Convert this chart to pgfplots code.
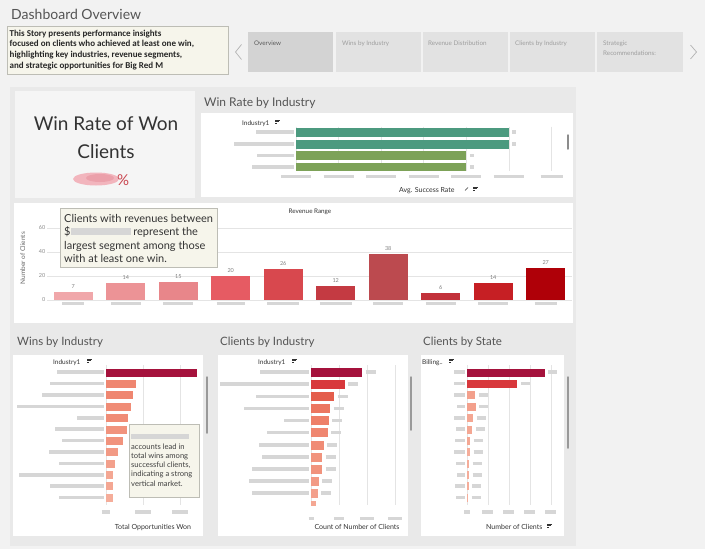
\documentclass[border=0pt]{standalone}
\usepackage{fontspec}
\setmainfont{Lato}
\newfontfamily\carlito{Carlito}
\usepackage{pgfplots}
\pgfplotsset{compat=1.18}

\definecolor{pagebg}{HTML}{F2F2F2}
\definecolor{contbg}{HTML}{E9E9E9}
\definecolor{kpibg}{HTML}{F5F5F5}
\definecolor{smudge}{HTML}{D6D6D6}
\definecolor{gridc}{HTML}{E4E4E4}
\definecolor{titlegray}{HTML}{555555}
\definecolor{dark}{HTML}{333333}
\definecolor{cream}{HTML}{F6F5EB}
\definecolor{creamborder}{HTML}{BDBDB5}
\definecolor{crimson}{HTML}{A5123C}
\definecolor{redtwo}{HTML}{D8383C}
\definecolor{teal}{HTML}{4C9A7F}
\definecolor{olive}{HTML}{7DA258}
\definecolor{tabsel}{HTML}{D3D3D3}
\definecolor{tab}{HTML}{E2E2E2}
\definecolor{pinkA}{HTML}{F2B5BD}
\definecolor{pinkB}{HTML}{EBA0AA}
\definecolor{pctred}{HTML}{C9454F}
% revenue colours
\definecolor{rvA}{HTML}{F0A7AA}
\definecolor{rvB}{HTML}{EC9396}
\definecolor{rvC}{HTML}{E8868A}
\definecolor{rvD}{HTML}{E65B63}
\definecolor{rvE}{HTML}{D8484E}
\definecolor{rvF}{HTML}{C43A42}
\definecolor{rvG}{HTML}{BC4A4F}
\definecolor{rvH}{HTML}{C2313A}
\definecolor{rvI}{HTML}{C61F24}
\definecolor{rvJ}{HTML}{AF0008}
% salmon shades
\definecolor{saA}{HTML}{E45E4C}
\definecolor{saB}{HTML}{EC7660}
\definecolor{saC}{HTML}{EE7F68}
\definecolor{saD}{HTML}{EF8670}
\definecolor{saE}{HTML}{F08C76}
\definecolor{saF}{HTML}{F1937D}
\definecolor{saG}{HTML}{F29A85}
\definecolor{saH}{HTML}{F3A08C}
\definecolor{saI}{HTML}{F4A793}
\definecolor{saJ}{HTML}{F5AD9A}

\newcommand\sm[1]{\textcolor{smudge}{\rule[0.6pt]{#1pt}{3.6pt}}}
\newcommand\sorticon[2]{%
  \draw[dark, line width=0.6pt] (#1,#2) -- ++(5,0);
  \draw[dark, line width=0.6pt] (#1,#2+1.6) -- ++(3.6,0);
  \draw[dark, line width=0.6pt] (#1,#2+3.2) -- ++(2.2,0);}

\pgfplotsset{
  dash/.style={scale only axis, axis line style={draw=none}, major tick length=0pt,
    tick style={draw=none}, /pgf/number format/assume math mode=true, clip=true,
    enlargelimits=false,
    ticklabel style={font=\fontsize{6}{7}\selectfont, inner sep=1.5pt}},
  hb/.style={dash, xbar, /pgf/bar shift=0pt, y dir=reverse, xmajorgrids,
    major grid style={gridc, line width=0.6pt}, ytick={1,...,12}, xmin=0},
}

\begin{document}
\begin{tikzpicture}
\begin{scope}[x=1pt,y=-1pt]
\useasboundingbox (0,0) rectangle (705,549);
\fill[pagebg] (0,0) rectangle (705,549);
% header
\node[anchor=base west, inner sep=0, font=\fontsize{14}{16}\selectfont, text=titlegray] at (11,19.5) {Dashboard Overview};
\draw[creamborder, fill=cream, line width=0.6pt] (7,26) rectangle (228,74);
\begin{scope}[every node/.style={anchor=base west, inner sep=0, font=\carlito\bfseries\fontsize{9}{10}\selectfont, text=black!85}]
\node at (9.5,36) {This Story presents performance insights};
\node at (9.5,46.7) {focused on clients who achieved at least one win,};
\node at (9.5,57.3) {highlighting key industries, revenue segments,};
\node at (9.5,68) {and strategic opportunities for Big Red M};
\end{scope}
\draw[black!30, line width=0.7pt] (241.5,44.5) -- (235.5,52) -- (241.5,59.5);
\draw[black!30, line width=0.7pt] (690.5,45) -- (696.5,52) -- (690.5,59);
\fill[tabsel] (248,32) rectangle (333,72);
\fill[tab] (336,32) rectangle (421,72);
\fill[tab] (423,32) rectangle (508,72);
\fill[tab] (510,32) rectangle (595,72);
\fill[tab] (597,32) rectangle (683,72);
\begin{scope}[every node/.style={anchor=base west, inner sep=0, font=\fontsize{6.3}{7}\selectfont}]
\node[text=black!65] at (254,45) {Overview};
\node[text=black!38] at (342,45) {Wins by Industry};
\node[text=black!38] at (428,45) {Revenue Distribution};
\node[text=black!38] at (515,45) {Clients by Industry};
\node[text=black!38] at (603,45) {Strategic};
\node[text=black!38] at (603,55.5) {Recommendations:};
\end{scope}
% dashboard container
\fill[contbg] (10,87) rectangle (576,546);
% KPI
\fill[kpibg] (15,91) rectangle (195,198);
\node[anchor=base, inner sep=0, font=\fontsize{19}{22}\selectfont, text=dark] at (106,130) {Win Rate of Won};
\node[anchor=base, inner sep=0, font=\fontsize{19}{22}\selectfont, text=dark] at (106,158) {Clients};
\fill[pinkA] (96,179) ellipse [x radius=23, y radius=6.5];
\fill[pinkB] (100,178) ellipse [x radius=14, y radius=4];
\node[anchor=base west, inner sep=0, font=\fontsize{15}{16}\selectfont, text=pctred] at (117,185) {\%};
% win rate panel
\node[anchor=base west, inner sep=0, font=\fontsize{12}{14}\selectfont, text=titlegray] at (204,106) {Win Rate by Industry};
\fill[white] (201,113) rectangle (573,197);
\node[anchor=base west, inner sep=0, font=\fontsize{6.5}{7}\selectfont, text=dark] at (242,125) {Industry1};
\sorticon{275}{120}
\node[anchor=base west, inner sep=0, font=\fontsize{7}{8}\selectfont, text=dark] at (399,192) {Avg. Success Rate};
\sorticon{473}{187}
\draw[dark, line width=0.6pt] (465,190.5) -- (468,187.5);
\draw[black!45, line width=1.5pt, line cap=round] (568,135) -- (568,149);
% revenue panel
\fill[white] (14,203) rectangle (573,323);
\node[anchor=base, inner sep=0, font=\fontsize{6.3}{7}\selectfont, text=dark] at (310,213) {Revenue Range};
\node[anchor=base, inner sep=0, rotate=90, font=\fontsize{6.5}{7}\selectfont, text=black!60] at (25,258) {Number of Clients};
% bottom panels
\node[anchor=base west, inner sep=0, font=\fontsize{11.5}{13}\selectfont, text=titlegray] at (17,345) {Wins by Industry};
\node[anchor=base west, inner sep=0, font=\fontsize{11.5}{13}\selectfont, text=titlegray] at (220,345) {Clients by Industry};
\node[anchor=base west, inner sep=0, font=\fontsize{11.5}{13}\selectfont, text=titlegray] at (423,345) {Clients by State};
\fill[white] (13,355) rectangle (203,536);
\fill[white] (218,355) rectangle (408,536);
\fill[white] (421,355) rectangle (564,536);
\node[anchor=base west, inner sep=0, font=\fontsize{6.5}{7}\selectfont, text=dark] at (53,364) {Industry1};
\sorticon{87}{359}
\node[anchor=base west, inner sep=0, font=\fontsize{6.5}{7}\selectfont, text=dark] at (258,364) {Industry1};
\sorticon{292}{359}
\node[anchor=base west, inner sep=0, font=\fontsize{6.5}{7}\selectfont, text=dark] at (422,364) {Billing..};
\sorticon{449}{359}
\node[anchor=base, inner sep=0, font=\fontsize{7}{8}\selectfont, text=dark] at (153,529) {Total Opportunities Won};
\node[anchor=base, inner sep=0, font=\fontsize{7}{8}\selectfont, text=dark] at (357,529) {Count of Number of Clients};
\node[anchor=base west, inner sep=0, font=\fontsize{7}{8}\selectfont, text=dark] at (486,529) {Number of Clients};
\sorticon{547}{524}
\draw[black!40, line width=1.5pt, line cap=round] (207,377) -- (207,433);
\draw[black!40, line width=1.5pt, line cap=round] (411,377) -- (411,430);
\draw[black!40, line width=1.5pt, line cap=round] (568,377) -- (568,448);
\end{scope}

% ---------- Win rate by industry ----------
\begin{axis}[hb, at={(296pt,-126.7pt)}, anchor=north west, width=267pt, height=44.1pt,
  xmax=62.7, ymin=0.5, ymax=4.3, bar width=9pt, ytick={1,2,3,4},
  yticklabels={\sm{38},\sm{60},\sm{37},\sm{42}},
  xtick={0,10,20,30,40,50,60}, xticklabels={\sm{30},\sm{30},\sm{30},\sm{30},\sm{30},\sm{30},\sm{22}},
  xticklabel style={yshift=-2pt},
  nodes near coords={\sm{4}}]
\addplot[fill=teal, draw=none] coordinates {(50,1)};
\addplot[fill=teal, draw=none] coordinates {(50,2)};
\addplot[fill=olive, draw=none] coordinates {(40,3)};
\addplot[fill=olive, draw=none] coordinates {(40,4)};
\end{axis}

% ---------- Revenue range ----------
\begin{axis}[dash, ybar, /pgf/bar shift=0pt, at={(47pt,-300pt)}, anchor=south west,
  width=525pt, height=84pt, xmin=-0.5, xmax=9.5, ymin=0, ymax=70, bar width=39pt,
  xtick={0,...,9},
  xticklabels={\sm{22},\sm{30},\sm{30},\sm{28},\sm{32},\sm{32},\sm{30},\sm{30},\sm{30},\sm{22}},
  ytick={0,20,40,60}, ymajorgrids, major grid style={gridc, line width=0.5pt},
  yticklabel style={text=black!45, font=\fontsize{5.5}{6}\selectfont},
  nodes near coords,
  nodes near coords style={font=\fontsize{5.5}{6}\selectfont, text=black!50}]
\addplot[fill=rvA, draw=none] coordinates {(0,7)};
\addplot[fill=rvB, draw=none] coordinates {(1,14)};
\addplot[fill=rvC, draw=none] coordinates {(2,15)};
\addplot[fill=rvD, draw=none] coordinates {(3,20)};
\addplot[fill=rvE, draw=none] coordinates {(4,26)};
\addplot[fill=rvF, draw=none] coordinates {(5,12)};
\addplot[fill=rvG, draw=none] coordinates {(6,38)};
\addplot[fill=rvH, draw=none] coordinates {(7,6)};
\addplot[fill=rvI, draw=none] coordinates {(8,14)};
\addplot[fill=rvJ, draw=none] coordinates {(9,27)};
\end{axis}

% ---------- Wins by industry ----------
\begin{axis}[hb, at={(106pt,-365.1pt)}, anchor=north west, width=96pt, height=140.2pt,
  xmax=129.7, ymin=0.35, ymax=12.65, bar width=8pt,
  xtick={0,50,100}, xticklabels={\sm{8},\sm{16},\sm{16}}, xticklabel style={yshift=-3pt},
  yticklabels={\sm{47},\sm{54},\sm{62},\sm{87},\sm{27},\sm{49},\sm{42},\sm{55},\sm{45},\sm{85},\sm{54},\sm{45}}]
\addplot[fill=crimson, draw=none] coordinates {(123,1)};
\addplot[fill=saD, draw=none] coordinates {(41,2)};
\addplot[fill=saD, draw=none] coordinates {(36,3)};
\addplot[fill=saE, draw=none] coordinates {(34,4)};
\addplot[fill=saE, draw=none] coordinates {(30,5)};
\addplot[fill=saF, draw=none] coordinates {(28,6)};
\addplot[fill=saF, draw=none] coordinates {(23,7)};
\addplot[fill=saG, draw=none] coordinates {(16,8)};
\addplot[fill=saH, draw=none] coordinates {(12,9)};
\addplot[fill=saI, draw=none] coordinates {(10,10)};
\addplot[fill=saI, draw=none] coordinates {(9,11)};
\addplot[fill=saJ, draw=none] coordinates {(9,12)};
\end{axis}

% ---------- Clients by industry ----------
\begin{axis}[hb, at={(311pt,-365.2pt)}, anchor=north west, width=93pt, height=139.8pt,
  xmax=166, ymin=0.4, ymax=11.95, bar width=9pt,
  xtick={0,50,100,150}, xticklabels={\sm{5},\sm{10},\sm{14},\sm{14}}, xticklabel style={yshift=-10pt},
  yticklabels={\sm{49},\sm{89},\sm{53},\sm{65},\sm{25},\sm{42},\sm{50},\sm{47},\sm{57},\sm{60},\sm{57},\sm{47}},
  nodes near coords={\sm{10}}]
\addplot[fill=crimson, draw=none] coordinates {(91,1)};
\addplot[fill=redtwo, draw=none] coordinates {(60,2)};
\addplot[fill=saA, draw=none] coordinates {(41,3)};
\addplot[fill=saB, draw=none] coordinates {(34,4)};
\addplot[fill=saC, draw=none] coordinates {(32,5)};
\addplot[fill=saD, draw=none] coordinates {(30,6)};
\addplot[fill=saE, draw=none] coordinates {(23,7)};
\addplot[fill=saF, draw=none] coordinates {(20,8)};
\addplot[fill=saF, draw=none] coordinates {(20,9)};
\addplot[fill=saG, draw=none] coordinates {(14,10)};
\addplot[fill=saH, draw=none] coordinates {(12,11)};
\addplot[fill=saI, draw=none] coordinates {(9,12)};
\end{axis}

% ---------- Clients by state ----------
\begin{axis}[hb, at={(467pt,-365.1pt)}, anchor=north west, width=93pt, height=140.2pt,
  xmax=886, ymin=0.35, ymax=12.65, bar width=8pt,
  xtick={0,200,400,600,800}, xticklabels={\sm{6},\sm{11},\sm{11},\sm{11},\sm{11}}, xticklabel style={yshift=-3pt},
  yticklabels={\sm{11},\sm{11},\sm{11},\sm{8},\sm{11},\sm{9},\sm{10},\sm{11},\sm{9},\sm{8},\sm{10},\sm{9}},
  nodes near coords={\sm{9}}]
\addplot[fill=crimson, draw=none] coordinates {(740,1)};
\addplot[fill=redtwo, draw=none] coordinates {(480,2)};
\addplot[fill=saH, draw=none] coordinates {(80,3)};
\addplot[fill=saH, draw=none] coordinates {(85,4)};
\addplot[fill=saI, draw=none] coordinates {(60,5)};
\addplot[fill=saI, draw=none] coordinates {(50,6)};
\addplot[fill=saI, draw=none] coordinates {(32,7)};
\addplot[fill=saJ, draw=none] coordinates {(30,8)};
\addplot[fill=saJ, draw=none] coordinates {(20,9)};
\addplot[fill=saJ, draw=none] coordinates {(20,10)};
\addplot[fill=saJ, draw=none] coordinates {(18,11)};
\addplot[fill=saJ, draw=none] coordinates {(10,12)};
\end{axis}

% ---------- annotations on top ----------
\begin{scope}[x=1pt,y=-1pt]
\draw[creamborder, fill=cream, line width=0.6pt] (60,208) rectangle (217,267);
\begin{scope}[every node/.style={anchor=base west, inner sep=0, font=\fontsize{11}{12}\selectfont, text=black!80}]
\node at (64,222) {Clients with revenues between};
\node at (64,235.5) {\$\textcolor{smudge}{\rule[0.5pt]{60pt}{7pt}} represent the};
\node at (64,249) {largest segment among those};
\node at (64,262) {with at least one win.};
\end{scope}
\draw[creamborder, fill=cream, line width=0.6pt] (129,424) rectangle (199,497);
\begin{scope}[every node/.style={anchor=base west, inner sep=0, font=\fontsize{7.6}{8}\selectfont, text=black!75}]
\node at (131,439) {\textcolor{smudge}{\rule[0.5pt]{58pt}{4.5pt}}};
\node at (131,449) {accounts lead in};
\node at (131,458.3) {total wins among};
\node at (131,467.6) {successful clients,};
\node at (131,476.9) {indicating a strong};
\node at (131,486.2) {vertical market.};
\end{scope}
\end{scope}
\end{tikzpicture}
\end{document}
